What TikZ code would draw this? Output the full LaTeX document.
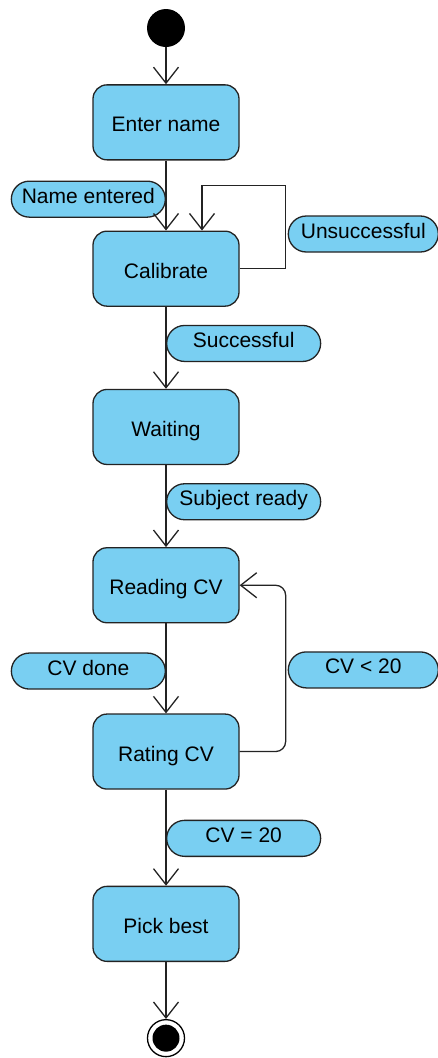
\documentclass[tikz,border=0pt]{standalone}
\usepackage{fontspec}
\setmainfont{Liberation Sans}
\usetikzlibrary{positioning, arrows.meta}
\definecolor{stateblue}{RGB}{121,207,242}
\definecolor{edgegray}{RGB}{35,35,35}

\begin{document}
\begin{tikzpicture}[x=1pt, y=1pt,
        state/.style={rectangle, rounded corners=14pt, draw=edgegray, line width=1.3pt, fill=stateblue,
            minimum width=146pt, minimum height=75pt, text height=19pt, text depth=0pt,
            font=\fontsize{21}{25}\selectfont},
        guard/.style={rectangle, rounded corners=18pt, draw=edgegray, line width=1.3pt, fill=stateblue,
            minimum width=154pt, minimum height=36pt, inner sep=0pt, text height=16pt, text depth=8pt,
            font=\fontsize{21}{25}\selectfont},
        finish/.style={circle, draw=black, line width=1.3pt, fill=white, minimum size=37pt, inner sep=0pt,
            path picture={\fill[black] (path picture bounding box.center) circle (13.5pt);}},
        flow/.style={-{Straight Barb[length=16pt, width=25pt]}, line width=1.3pt, draw=edgegray}]
        \useasboundingbox (0,0) rectangle (438,-1058);

        \node [circle, fill=black, minimum size=38pt, inner sep=0pt] (start) at (166,-28) {};
        \node [state, below=37pt of start] (enter) {Enter name};
        \node [state, below=70pt of enter] (calib) {Calibrate};
        \node [state, below=82pt of calib] (wait) {Waiting};
        \node [state, below=82pt of wait] (read) {Reading CV};
        \node [state, below=90pt of read] (rate) {Rating CV};
        \node [state, below=96pt of rate] (pick) {Pick best};
        \node [finish, below=57pt of pick] (finish) {};

        \node [guard, below left=20pt and 0pt of enter.south] (entered) {Name entered};
        \node [guard, minimum width=150pt, above right=16pt and 48pt of calib.east] (unsucc) {Unsuccessful};
        \node [guard, below right=18pt and 0pt of calib.south] (succ) {Successful};
        \node [guard, below right=18pt and 0pt of wait.south] (ready) {Subject ready};
        \node [guard, below left=29pt and 0pt of read.south] (cvdone) {CV done};
        \node [guard, minimum width=150pt, below right=66pt and 48pt of read.east] (cvless) {CV < 20};
        \node [guard, below right=30pt and 0pt of rate.south] (cvfull) {CV = 20};

        \draw [flow] (start) -- (enter);
        \draw [flow] (enter) -- (calib);
        \draw [flow] (calib.east) -- ++(46pt,0) |- ([xshift=36pt, yshift=45pt]calib.north) -- ([xshift=36pt]calib.north);
        \draw [flow] (calib) -- (wait);
        \draw [flow] (wait) -- (read);
        \draw [flow] (read) -- (rate);
        \draw [flow, rounded corners=10pt] (rate.east) -| ([xshift=46pt]read.east) -- (read.east);
        \draw [flow] (rate) -- (pick);
        \draw [flow] (pick) -- (finish);
    \end{tikzpicture}
\end{document}
